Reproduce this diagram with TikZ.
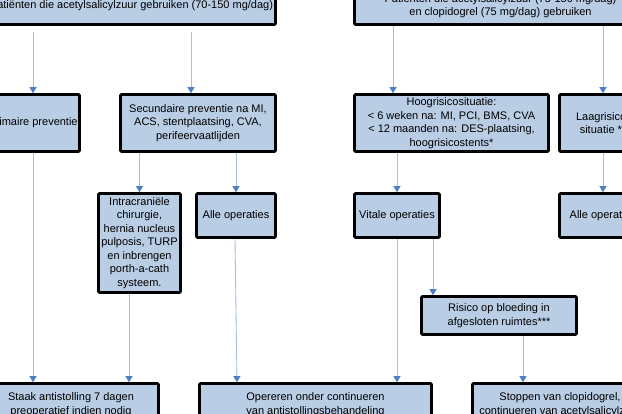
\documentclass[tikz,border=0pt]{standalone}
\usepackage{fontspec}
\setmainfont{Liberation Sans}
\usetikzlibrary{arrows.meta}
\definecolor{boxfill}{HTML}{B9CDE5}
\definecolor{linkline}{HTML}{A9BFE2}
\definecolor{tipblue}{HTML}{4F7FC0}
\begin{document}
\begin{tikzpicture}[x=1pt,y=-1pt,
  flowbox/.style={draw=black, fill=boxfill, line width=2.6pt, rounded corners=1pt,
    align=center, inner sep=0pt, font=\fontsize{11}{13.5}\selectfont},
  link/.style={draw=linkline, line width=0.9pt,
    -{Triangle[width=7pt,length=6pt,color=tipblue]}}]
\useasboundingbox (0,0) rectangle (622,414);

% top row
\node[flowbox, minimum width=288pt, minimum height=37pt] (TL) at (131.5,6)
  {Patiënten die acetylsalicylzuur gebruiken (70-150 mg/dag)};
\node[flowbox, minimum width=292pt, minimum height=37pt] (TR) at (500.5,6)
  {Patiënten die acetylsalicylzuur (75-150 mg/dag)\\en clopidogrel (75 mg/dag) gebruiken};

% second row
\node[flowbox, minimum width=93pt, minimum height=57pt] (PP) at (33,123)
  {Primaire preventie};
\node[flowbox, minimum width=155pt, minimum height=57pt] (SP) at (198,123)
  {Secundaire preventie na MI,\\ACS, stentplaatsing, CVA,\\perifeervaatlijden};
\node[flowbox, minimum width=194pt, minimum height=57pt] (HR) at (451.5,123)
  {Hoogrisicosituatie:\\< 6 weken na: MI, PCI, BMS, CVA\\< 12 maanden na: DES-plaatsing,\\hoogrisicostents*};
\node[flowbox, minimum width=87pt, minimum height=57pt] (LR) at (603,123)
  {Laagrisico-\\situatie **};

% third row
\node[flowbox, minimum width=82pt, minimum height=99pt] (IC) at (139.5,243)
  {Intracraniële\\chirurgie,\\hernia nucleus\\pulposis, TURP\\en inbrengen\\porth-a-cath\\systeem.};
\node[flowbox, minimum width=79pt, minimum height=44pt] (AL) at (236,215.5)
  {Alle operaties};
\node[flowbox, minimum width=85pt, minimum height=44pt] (VO) at (397,215.5)
  {Vitale operaties};
\node[flowbox, minimum width=87pt, minimum height=44pt] (AR) at (603,215.5)
  {Alle operaties};

% fourth row
\node[flowbox, minimum width=155pt, minimum height=38pt] (RB) at (499,315.5)
  {Risico op bloeding in\\afgesloten ruimtes***};

% bottom row
\node[flowbox, minimum width=175pt, minimum height=42pt] (ST) at (71,404.5)
  {Staak antistolling 7 dagen\\preoperatief indien nodig};
\node[flowbox, minimum width=232pt, minimum height=42pt] (OP) at (315.5,404.5)
  {Opereren onder continueren\\van antistollingsbehandeling};
\node[flowbox, minimum width=175pt, minimum height=42pt] (SC) at (560,404.5)
  {Stoppen van clopidogrel,\\continueren van acetylsalicylzuur};

% connector end points
\coordinate (spIn) at ([xshift=-7pt]SP.north);
\coordinate (hrIn) at ([xshift=-58.5pt]HR.north);
\coordinate (rbIn) at ([xshift=-66pt]RB.north);
\coordinate (stInA) at ([xshift=-38pt]ST.north);
\coordinate (stInB) at ([xshift=58pt]ST.north);
\coordinate (opInA) at ([xshift=-78.5pt]OP.north);
\coordinate (opInB) at ([xshift=81.5pt]OP.north);
\coordinate (scIn) at ([xshift=-37pt]SC.north);
\coordinate (alOut) at ([xshift=-1pt]AL.south);

% connectors
\draw[link, shorten <=6pt] (TL.south -| PP.north) -- (PP.north);
\draw[link, shorten <=6pt] (TL.south -| spIn) -- (spIn);
\draw[link] (TR.south -| hrIn) -- (hrIn);
\draw[link] (TR.south -| LR.north) -- (LR.north);

\draw[link] (SP.south -| IC.north) -- (IC.north);
\draw[link] (SP.south -| AL.north) -- (AL.north);
\draw[link] (HR.south -| VO.north) -- (VO.north);
\draw[link] (LR.south -| AR.north) -- (AR.north);

\draw[link] (VO.south -| rbIn) -- (rbIn);

\draw[link] (PP.south -| stInA) -- (stInA);
\draw[link] (IC.south -| stInB) -- (stInB);
\draw[link] (alOut) -- (opInA);
\draw[link] (VO.south -| opInB) -- (opInB);
\draw[link] (RB.south -| scIn) -- (scIn);
\end{tikzpicture}
\end{document}
